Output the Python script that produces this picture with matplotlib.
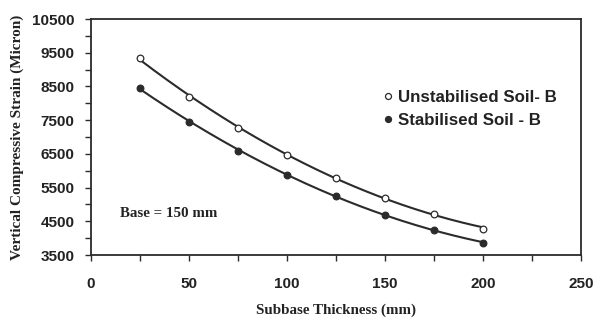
import numpy as np
import matplotlib
matplotlib.use("Agg")
import matplotlib.pyplot as plt
from matplotlib.ticker import MultipleLocator

thickness = [25, 50, 75, 100, 125, 150, 175, 200]
unstabilised = [9330, 8200, 7270, 6480, 5770, 5200, 4730, 4280]
stabilised = [8450, 7450, 6600, 5870, 5260, 4700, 4240, 3860]
xticks = [0, 50, 100, 150, 200, 250]
yticks = [3500, 4500, 5500, 6500, 7500, 8500, 9500, 10500]

fig = plt.figure(figsize=(6.03, 3.23), dpi=100)
ax = fig.add_axes([0.151, 0.2105, 0.8125, 0.7305])

col = "#2b2b2b"
xs = np.linspace(min(thickness), max(thickness), 200)
for vals, face, lab in [(unstabilised, "white", "Unstabilised Soil- B"),
                        (stabilised, col, "Stabilised Soil - B")]:
    c = np.polyfit(thickness, vals, 2)
    ax.plot(xs, np.polyval(c, xs), color=col, lw=1.5, zorder=2)
    ax.plot(thickness, vals, ls="none", marker="o", ms=4.8, mfc=face, mec=col,
            mew=0.9, zorder=3, label=lab)

ax.set_xlim(0, 250)
ax.set_ylim(3500, 10500)
ax.set_xticks(xticks)
ax.set_yticks(yticks)
ax.xaxis.set_minor_locator(MultipleLocator(25))
ax.yaxis.set_minor_locator(MultipleLocator(500))
ax.tick_params(which="both", direction="out", length=4, width=1, color=col)
ax.tick_params(axis="x", pad=12)
ax.tick_params(axis="y", pad=8)
for lbl in ax.get_xticklabels() + ax.get_yticklabels():
    lbl.set_fontfamily("Liberation Sans")
    lbl.set_fontweight("bold")
    lbl.set_fontsize(11)
    lbl.set_color("#222222")
for s in ax.spines.values():
    s.set_linewidth(1.3)
    s.set_color(col)

ax.set_xlabel("Subbase Thickness (mm)", fontfamily="Liberation Serif",
              fontweight="bold", fontsize=10.8, labelpad=9, color="#222222")
ax.set_ylabel("Vertical Compressive Strain (Micron)", fontfamily="Liberation Serif",
              fontweight="bold", fontsize=11, labelpad=6, color="#222222")

ax.text(0.059, 0.175, "Base = 150 mm", transform=ax.transAxes, va="center",
        fontfamily="Liberation Serif", fontweight="bold", fontsize=10.8, color="#222222")

leg = ax.legend(loc="upper left", bbox_to_anchor=(0.575, 0.75), frameon=False,
                handlelength=0.4, handletextpad=0.4, labelspacing=0.45,
                prop={"family": "Liberation Sans", "weight": "bold", "size": 12.2},
                markerscale=0.9, borderpad=0.2)
for t in leg.get_texts():
    t.set_color("#222222")

fig.savefig("out.png", dpi=100)
